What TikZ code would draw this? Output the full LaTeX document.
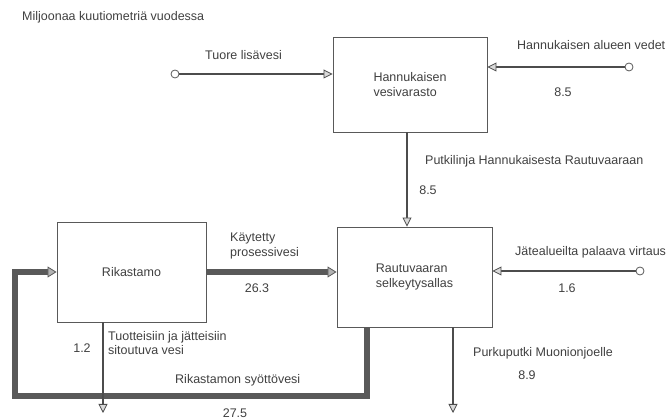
\documentclass[tikz,border=0pt]{standalone}
\usepackage{fontspec}
\setmainfont{Liberation Sans}
\usetikzlibrary{arrows.meta,positioning,calc}

\begin{document}
\begin{tikzpicture}[x=1pt, y=-1pt,
  font=\fontsize{12.5}{14.5}\selectfont, text=black!75,
  box/.style={draw=black!65, line width=0.9pt, fill=white, align=left},
  src/.style={circle, draw=black!65, line width=0.8pt, fill=white, inner sep=0pt, minimum size=8pt},
  flow/.style={draw=black!70, line width=1.1pt, -{Triangle[length=9pt,width=9pt,fill=black!15,line width=0.8pt]}},
  bigflow/.style={draw=black!65, line width=6.5pt, -{Triangle[length=9pt,width=11pt,fill=black!30,line width=0.8pt]}},
  lbl/.style={anchor=west, inner sep=0pt, align=left},
  num/.style={inner sep=0pt}]
\useasboundingbox (0,0) rectangle (670,419);

\node[lbl] (title) at (22,17) {Miljoonaa kuutiometriä vuodessa};

% altaat
\node[box, minimum width=154pt, minimum height=95pt] (hv) at (410,84.5) {Hannukaisen\\vesivarasto};
\node[box, minimum width=155pt, minimum height=100pt] (rs) at (414.5,277) {Rautuvaaran\\selkeytysallas};
\node[box, minimum width=149pt, minimum height=100pt] (rk) at (131.5,272) {Rikastamo};

% lähteet
\node[src] (tuore) at (175,74) {};
\node[src] (alue) at (629,67) {};
\node[src] (jate) at (640,271) {};
\coordinate (putki) at (407,132);
\coordinate (purku) at (453,413);
\coordinate (tuote) at (103,413);
\coordinate (loopR) at (367,396);
\coordinate (loopL) at (15,396);

% virtaukset
\draw[bigflow] (rs.south -| loopR) -- (loopR) -- (loopL) |- (rk.west);
\draw[bigflow] (rk.east) -- (rk.east -| rs.west);
\draw[flow] (tuore) -- (tuore -| hv.west);
\draw[flow] (alue) -- (alue -| hv.east);
\draw[flow] (hv.south -| putki) -- (rs.north -| putki);
\draw[flow] (jate) -- (jate -| rs.east);
\draw[flow] (rs.south -| purku) -- (purku);
\draw[flow] (rk.south -| tuote) -- (tuote);

% tekstit
\node[lbl] (tuoreL) at (205,55) {Tuore lisävesi};
\node[lbl] (alueL) at (517,45) {Hannukaisen alueen vedet};
\node[num] (alueN) at (563,92) {8.5};
\node[lbl] (putkiL) at (425,161) {Putkilinja Hannukaisesta Rautuvaaraan};
\node[num] (putkiN) at (428,190) {8.5};
\node[lbl] (kayttoL) at (230,246) {Käytetty\\prosessivesi};
\node[num] (kayttoN) at (257,288) {26.3};
\node[lbl] (jateL) at (515,252) {Jätealueilta palaava virtaus};
\node[num] (jateN) at (567,288) {1.6};
\node[lbl] (purkuL) at (473,353) {Purkuputki Muonionjoelle};
\node[num] (purkuN) at (527,375) {8.9};
\node[lbl] (tuoteL) at (108,343) {Tuotteisiin ja jätteisiin\\sitoutuva vesi};
\node[num] (tuoteN) at (82,348) {1.2};
\node[lbl] (syottoL) at (175,380) {Rikastamon syöttövesi};
\node[num] (syottoN) at (235,413) {27.5};
\end{tikzpicture}
\end{document}
